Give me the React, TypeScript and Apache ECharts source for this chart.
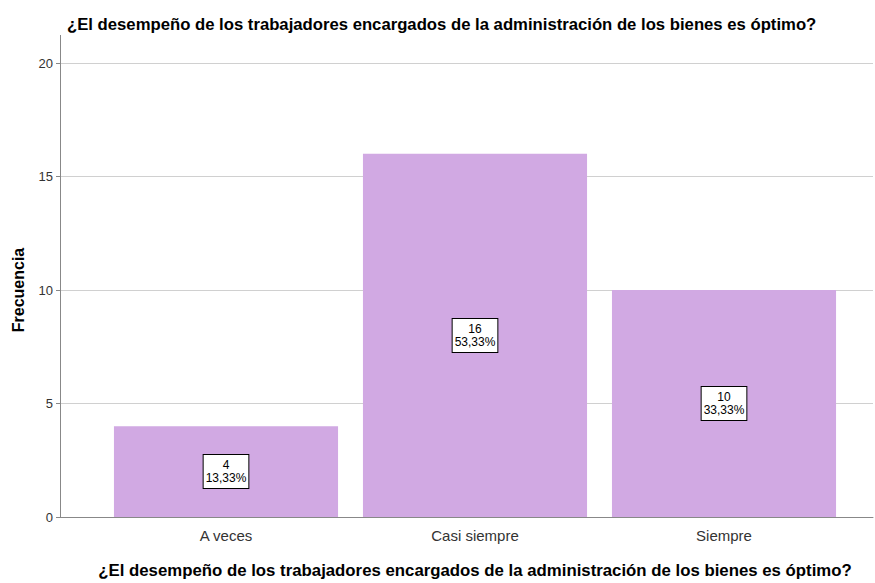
import React, { useEffect, useRef } from "react";
import * as echarts from "echarts";

const categories = ["A veces", "Casi siempre", "Siempre"];
const frequencies = [4, 16, 10];
const percents = ["13,33%", "53,33%", "33,33%"];
const yTicks = [0, 5, 10, 15, 20];

const titleText = "¿El desempeño de los trabajadores encargados de la administración de los bienes es óptimo?";
const FONT = "'Liberation Sans', Arial, sans-serif";
const NARROW = "'Liberation Sans Narrow', 'Arial Narrow', 'Liberation Sans', Arial, sans-serif";

export default function App() {
  const ref = useRef<HTMLDivElement>(null);
  useEffect(() => {
    if (!ref.current) return;
    const chart = echarts.init(ref.current, undefined, { renderer: "svg" });
    const top = 63;
    const bottom = 66;
    chart.setOption({
      animation: false,
      backgroundColor: "#ffffff",
      textStyle: { fontFamily: FONT },
      title: {
        text: titleText,
        left: 62,
        top: 11,
        textStyle: { fontFamily: FONT, fontSize: 16.7, fontWeight: "bold", color: "#000" },
      },
      grid: [
        { left: 60, right: 2, top, bottom, containLabel: false, outerBoundsMode: "none" },
        { left: 101.5, right: 26.5, top, bottom, containLabel: false, outerBoundsMode: "none" },
      ],
      xAxis: [
        {
          gridIndex: 0,
          type: "category",
          data: [""],
          axisLine: { show: true, lineStyle: { color: "#888", width: 1 } },
          axisTick: { show: false },
          axisLabel: { show: false },
          splitLine: { show: false },
        },
        {
          gridIndex: 1,
          type: "category",
          data: categories,
          axisLine: { show: false },
          axisTick: { show: false },
          axisLabel: { color: "#333", fontSize: 15, margin: 11, fontFamily: FONT },
          name: titleText,
          nameLocation: "middle",
          nameGap: 45,
          nameTextStyle: { fontFamily: FONT, fontSize: 16.8, fontWeight: "bold", color: "#000" },
        },
      ],
      yAxis: [
        {
          gridIndex: 0,
          type: "value",
          min: 0,
          max: 20,
          interval: 5,
          axisLine: { show: true, lineStyle: { color: "#888", width: 1 } },
          axisTick: { show: true, length: 4, lineStyle: { color: "#888" } },
          axisLabel: {
            color: "#333",
            fontSize: 13,
            margin: 7,
            fontFamily: NARROW,
            formatter: (v: number) => (yTicks.includes(v) ? String(v) : ""),
          },
          splitLine: { show: true, lineStyle: { color: "#d0d0d0", width: 1 } },
          name: "Frecuencia",
          nameLocation: "middle",
          nameGap: 34,
          nameRotate: 90,
          nameTextStyle: { fontFamily: FONT, fontSize: 16, fontWeight: "bold", color: "#000" },
        },
        {
          gridIndex: 1,
          type: "value",
          min: 0,
          max: 20,
          interval: 5,
          show: false,
        },
      ],
      graphic: [
        {
          type: "line",
          shape: { x1: 60.5, y1: 35, x2: 60.5, y2: top },
          style: { stroke: "#888", lineWidth: 1 },
        },
      ],
      series: [
        {
          type: "bar",
          xAxisIndex: 1,
          yAxisIndex: 1,
          data: frequencies,
          barCategoryGap: "10%",
          itemStyle: { color: "#D1A9E3" },
          label: {
            show: true,
            position: "inside",
            formatter: (p: any) => `${p.value}\n${percents[p.dataIndex]}`,
            fontFamily: FONT,
            fontSize: 12,
            lineHeight: 13,
            color: "#000",
            backgroundColor: "#ffffff",
            borderColor: "#000",
            borderWidth: 1,
            padding: [4, 2, 3, 2],
            align: "center",
          },
        },
      ],
    });
    return () => chart.dispose();
  }, []);
  return <div ref={ref} style={{ width: 875, height: 583, position: "absolute", left: 0, top: 0 }} />;
}
